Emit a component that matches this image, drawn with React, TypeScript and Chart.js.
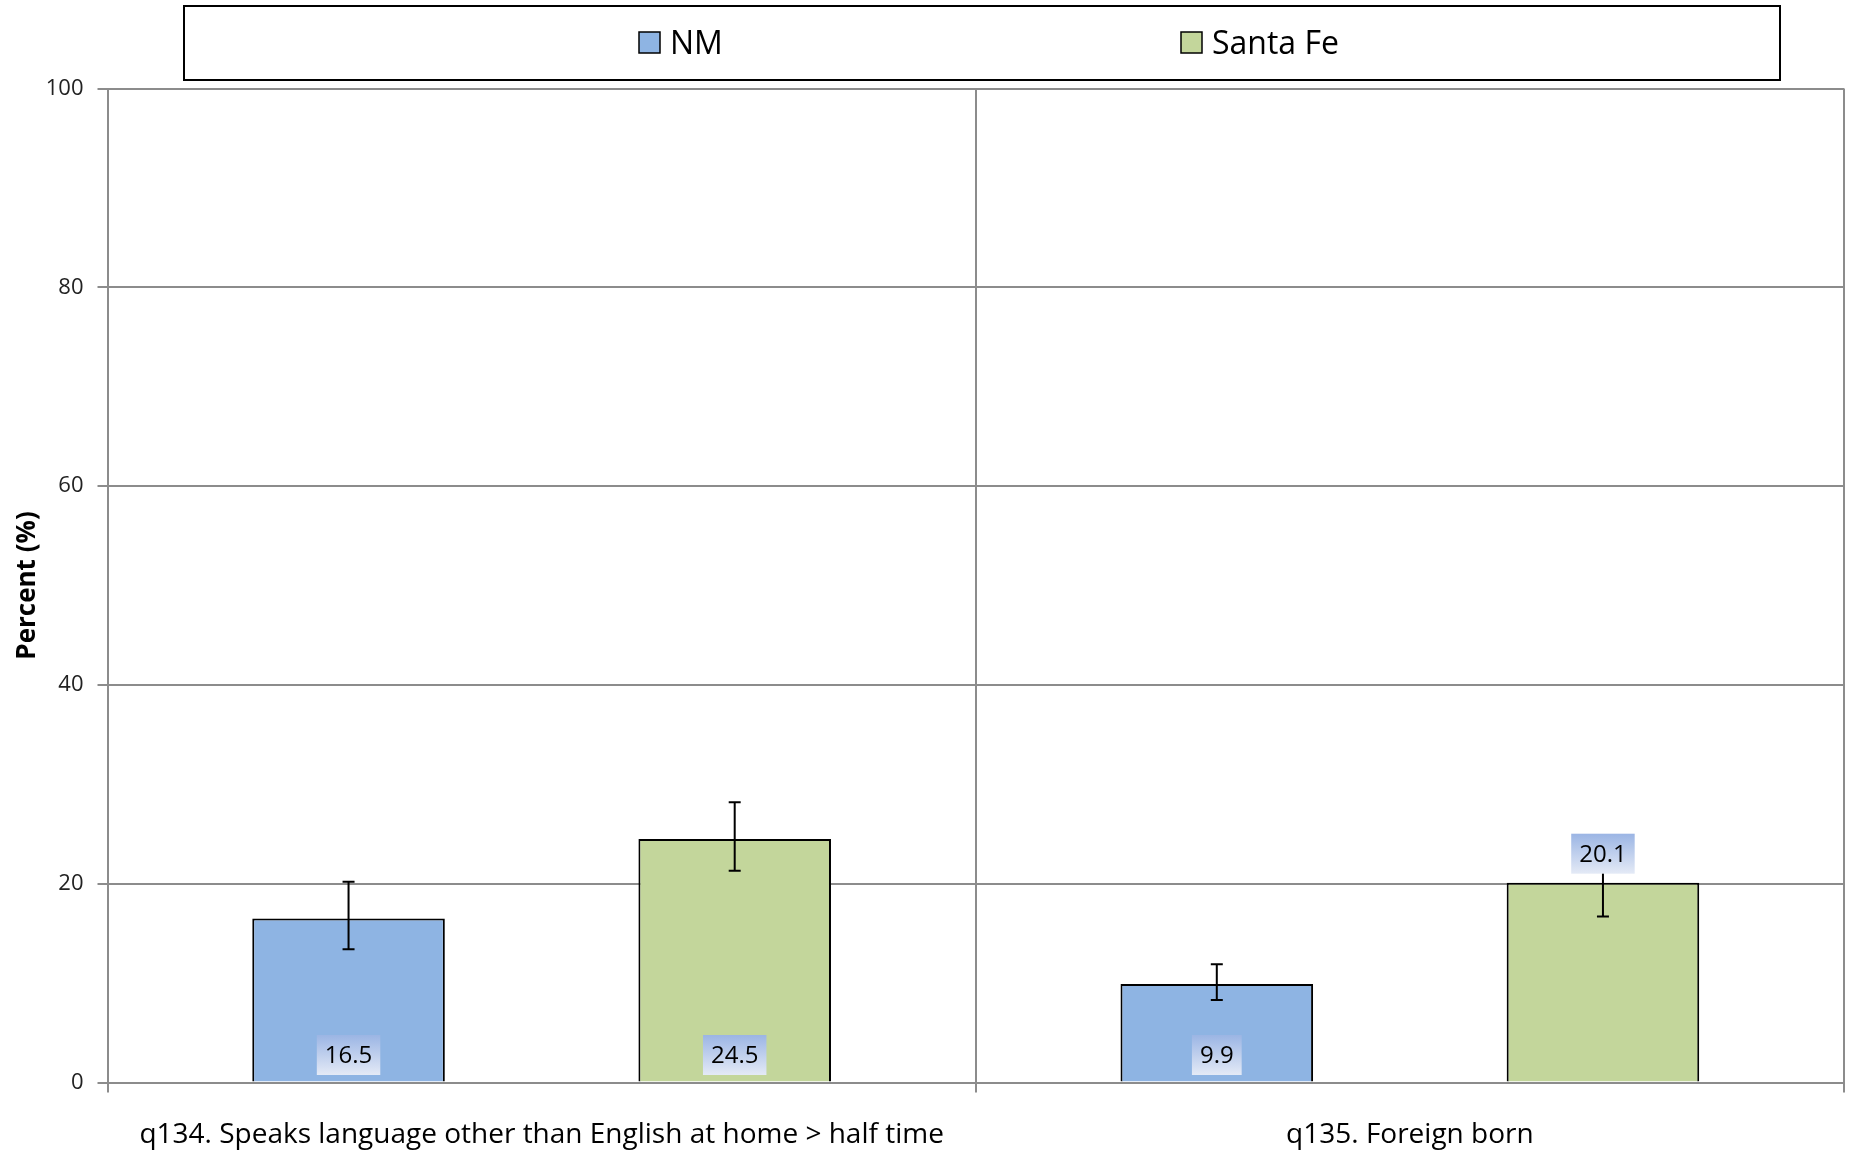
import React, { useEffect, useRef } from 'react';
import { Chart, registerables } from 'chart.js';

Chart.register(...registerables);

// ---------- data ----------
const categories = [
  'q134. Speaks language other than English at home > half time',
  'q135. Foreign born',
];
const seriesNames = ['NM', 'Santa Fe'];
const nmValues = [16.5, 9.9];
const santaFeValues = [24.5, 20.1];
const nmLower = [13.4, 8.3];
const nmUpper = [20.2, 11.9];
const santaFeLower = [21.3, 16.7];
const santaFeUpper = [28.2, 23.5];
const yTicks = [0, 20, 40, 60, 80, 100];

// ---------- style ----------
const FONT = '"Open Sans", "DejaVu Sans", sans-serif';
const NM_COLOR = '#8EB4E3';
const SF_COLOR = '#C3D69B';
const GRID = '#8c8c8c';
// which labels sit above the bar (outside end) instead of inside base
const LABEL_OUTSIDE = [
  [false, false],
  [false, true],
];

const overlayPlugin = {
  id: 'overlay',
  afterDatasetsDraw(chart: any) {
    const ctx = chart.ctx as CanvasRenderingContext2D;
    const yScale = chart.scales.y;
    // error bars
    chart.data.datasets.forEach((ds: any, di: number) => {
      const meta = chart.getDatasetMeta(di);
      meta.data.forEach((bar: any, i: number) => {
        const x = bar.x;
        const yl = yScale.getPixelForValue(ds.errLow[i]);
        const yh = yScale.getPixelForValue(ds.errHigh[i]);
        ctx.save();
        ctx.strokeStyle = '#000';
        ctx.lineWidth = 2;
        ctx.beginPath();
        ctx.moveTo(x, yl);
        ctx.lineTo(x, yh);
        ctx.moveTo(x - 6, yl);
        ctx.lineTo(x + 6, yl);
        ctx.moveTo(x - 6, yh);
        ctx.lineTo(x + 6, yh);
        ctx.stroke();
        ctx.restore();
      });
    });
    // data labels
    chart.data.datasets.forEach((ds: any, di: number) => {
      const meta = chart.getDatasetMeta(di);
      meta.data.forEach((bar: any, i: number) => {
        const text = Number(ds.data[i]).toFixed(1);
        ctx.save();
        ctx.font = `24px ${FONT}`;
        const w = ctx.measureText(text).width;
        const boxW = w + 16;
        const boxH = 40;
        const bottom = LABEL_OUTSIDE[di][i]
          ? bar.y - 9
          : yScale.getPixelForValue(0) - 7.5;
        const top = bottom - boxH;
        const left = bar.x - boxW / 2;
        const g = ctx.createLinearGradient(0, top, 0, bottom);
        g.addColorStop(0, '#9bb5e4');
        g.addColorStop(1, '#e4eaf6');
        ctx.fillStyle = g;
        ctx.fillRect(left, top, boxW, boxH);
        ctx.fillStyle = '#000';
        ctx.textAlign = 'center';
        ctx.textBaseline = 'middle';
        ctx.fillText(text, bar.x, top + boxH / 2 + 1);
        ctx.restore();
      });
    });
  },
  afterDraw(chart: any) {
    const ctx = chart.ctx as CanvasRenderingContext2D;
    ctx.save();
    // legend frame
    ctx.strokeStyle = '#000';
    ctx.lineWidth = 2;
    ctx.strokeRect(184, 6, 1596, 74);
    const boxX = [639, 1181];
    chart.data.datasets.forEach((ds: any, di: number) => {
      const x = boxX[di];
      ctx.fillStyle = ds.backgroundColor;
      ctx.fillRect(x, 32, 21, 21);
      ctx.lineWidth = 1.5;
      ctx.strokeStyle = '#000';
      ctx.strokeRect(x, 32, 21, 21);
      ctx.fillStyle = '#000';
      ctx.font = `32px ${FONT}`;
      ctx.textAlign = 'left';
      ctx.textBaseline = 'middle';
      ctx.fillText(ds.label, x + 31, 45);
    });
    ctx.restore();
  },
};

export default function App() {
  const ref = useRef<HTMLCanvasElement | null>(null);

  useEffect(() => {
    if (!ref.current) return;
    const chart = new Chart(ref.current, {
      type: 'bar',
      data: {
        labels: categories,
        datasets: [
          {
            label: seriesNames[0],
            data: nmValues,
            errLow: nmLower,
            errHigh: nmUpper,
            backgroundColor: NM_COLOR,
            borderColor: '#000',
            borderWidth: 2,
            categoryPercentage: 0.8895,
            barPercentage: 0.4987,
          } as any,
          {
            label: seriesNames[1],
            data: santaFeValues,
            errLow: santaFeLower,
            errHigh: santaFeUpper,
            backgroundColor: SF_COLOR,
            borderColor: '#000',
            borderWidth: 2,
            categoryPercentage: 0.8895,
            barPercentage: 0.4987,
          } as any,
        ],
      },
      options: {
        responsive: false,
        devicePixelRatio: 1,
        animation: false,
        layout: { padding: { top: 88.5, right: 7, left: 0, bottom: 0 } },
        plugins: {
          legend: { display: false },
          tooltip: { enabled: false },
        },
        scales: {
          x: {
            grid: {
              color: GRID,
              lineWidth: 2,
              tickLength: 10,
              offset: true,
              drawOnChartArea: true,
            },
            border: { color: GRID, width: 2 },
            ticks: {
              color: '#000',
              font: { family: FONT, size: 28 },
              padding: 26,
              maxRotation: 0,
              autoSkip: false,
            },
            afterFit: (s: any) => {
              s.height = 70.5;
            },
          },
          y: {
            min: 0,
            max: 100,
            afterBuildTicks: (s: any) => {
              s.ticks = yTicks.map((v) => ({ value: v }));
            },
            grid: { color: GRID, lineWidth: 2, tickLength: 10 },
            border: { color: GRID, width: 2 },
            ticks: {
              color: '#222',
              font: { family: FONT, size: 22 },
              padding: 14,
            },
            title: {
              display: true,
              text: 'Percent (%)',
              color: '#000',
              font: { family: FONT, size: 26, weight: 'bold' },
              padding: { top: 12, bottom: 0 },
            },
            afterFit: (s: any) => {
              s.width = 107.5;
            },
          },
        },
      } as any,
      plugins: [overlayPlugin],
    });
    return () => chart.destroy();
  }, []);

  return (
    <div style={{ position: 'absolute', left: 0, top: 0, width: 1851, height: 1153, background: '#fff' }}>
      <canvas ref={ref} width={1851} height={1153} style={{ width: 1851, height: 1153, display: 'block' }} />
    </div>
  );
}
